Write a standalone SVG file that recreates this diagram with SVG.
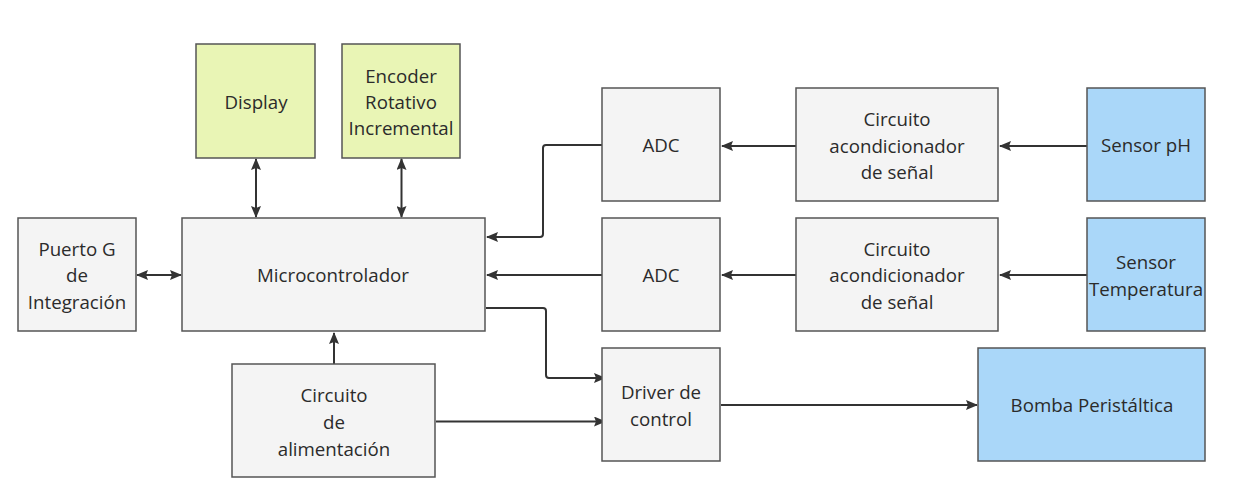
<svg xmlns="http://www.w3.org/2000/svg" width="1234" height="501" viewBox="0 0 1234 501">
<style>
.n{stroke:#555;stroke-width:1.5}
.g{fill:#f4f4f4}
.y{fill:#e9f5b5}
.b{fill:#aad7f9}
text{font-family:"Open Sans","Liberation Sans",sans-serif;font-size:18.7px;fill:#2b2b2b;text-anchor:middle}
.c{fill:none;stroke:#333;stroke-width:2;stroke-linejoin:round}
</style>
<defs>
<marker id="ah" markerUnits="userSpaceOnUse" markerWidth="12" markerHeight="10" refX="11" refY="5" orient="auto-start-reverse">
<path d="M0,0 L12,5 L0,10 L2,5 Z" fill="#333"/>
</marker>
</defs>
<rect width="1234" height="501" fill="#fff"/>
<g id="connectors">
<path class="c" d="M256,159 V217" marker-start="url(#ah)" marker-end="url(#ah)"/>
<path class="c" d="M401.5,159 V217" marker-start="url(#ah)" marker-end="url(#ah)"/>
<path class="c" d="M137,275 H181" marker-start="url(#ah)" marker-end="url(#ah)"/>
<path class="c" d="M602,145 H546 Q543,145 543,148 V234 Q543,237 540,237 H487" marker-end="url(#ah)"/>
<path class="c" d="M602,275 H487" marker-end="url(#ah)"/>
<path class="c" d="M796,146 H722" marker-end="url(#ah)"/>
<path class="c" d="M1087,146 H1000" marker-end="url(#ah)"/>
<path class="c" d="M796,275 H722" marker-end="url(#ah)"/>
<path class="c" d="M1087,275 H1000" marker-end="url(#ah)"/>
<path class="c" d="M486,308 H543 Q546,308 546,311 V375 Q546,378 549,378 H605" marker-end="url(#ah)"/>
<path class="c" d="M436,421.5 H605" marker-end="url(#ah)"/>
<path class="c" d="M334,364 V333" marker-end="url(#ah)"/>
<path class="c" d="M721,405 H977" marker-end="url(#ah)"/>
</g>
<g id="display"><rect class="n y" x="196" y="44" width="119" height="114"/><text x="256" y="108.5">Display</text></g>
<g id="encoder"><rect class="n y" x="342" y="44" width="118" height="114"/><text x="401" y="82.5">Encoder</text><text x="401" y="108.5">Rotativo</text><text x="401" y="134.5">Incremental</text></g>
<g id="puerto"><rect class="n g" x="18" y="218" width="118" height="113"/><text x="77" y="255.5">Puerto G</text><text x="77" y="281.5">de</text><text x="77" y="308.5">Integración</text></g>
<g id="micro"><rect class="n g" x="182" y="218" width="303" height="113"/><text x="333" y="281.5">Microcontrolador</text></g>
<g id="adc1"><rect class="n g" x="602" y="88" width="118" height="113"/><text x="661" y="151.5">ADC</text></g>
<g id="circ1"><rect class="n g" x="796" y="88" width="202" height="113"/><text x="897" y="125.5">Circuito</text><text x="897" y="152.5">acondicionador</text><text x="897" y="178.5">de señal</text></g>
<g id="ph"><rect class="n b" x="1087" y="88" width="118" height="113"/><text x="1146" y="151.5">Sensor pH</text></g>
<g id="adc2"><rect class="n g" x="602" y="218" width="118" height="113"/><text x="661" y="281.5">ADC</text></g>
<g id="circ2"><rect class="n g" x="796" y="218" width="202" height="113"/><text x="897" y="255.5">Circuito</text><text x="897" y="281.5">acondicionador</text><text x="897" y="308.5">de señal</text></g>
<g id="temp"><rect class="n b" x="1087" y="218" width="118" height="113"/><text x="1146" y="268.5">Sensor</text><text x="1146" y="295.5">Temperatura</text></g>
<g id="driver"><rect class="n g" x="602" y="348" width="118" height="113"/><text x="661" y="398.5">Driver de</text><text x="661" y="425.5">control</text></g>
<g id="bomba"><rect class="n b" x="978" y="348" width="227" height="113"/><text x="1092" y="411.5">Bomba Peristáltica</text></g>
<g id="alim"><rect class="n g" x="232" y="364" width="203" height="113"/><text x="334" y="401.5">Circuito</text><text x="334" y="428.5">de</text><text x="334" y="455.5">alimentación</text></g>
</svg>
